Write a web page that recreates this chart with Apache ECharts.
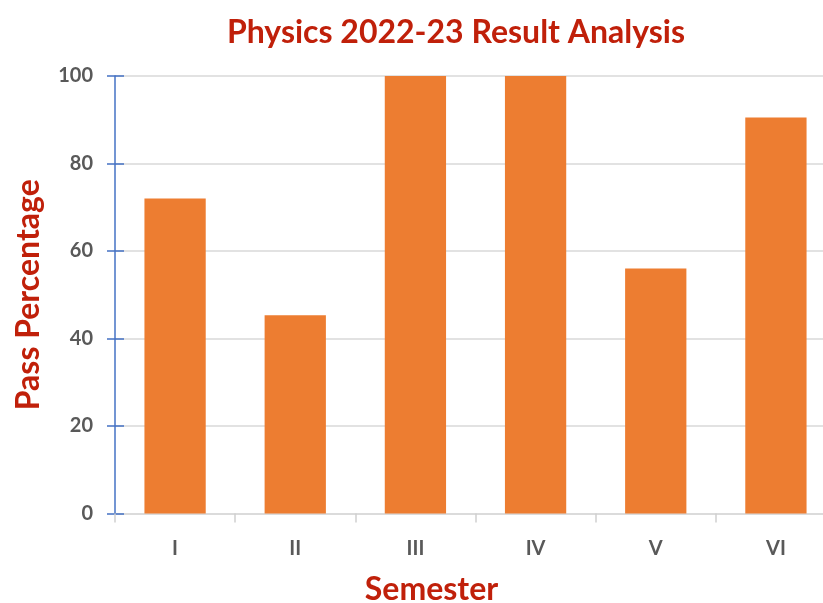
<!DOCTYPE html>
<html>
<head>
<meta charset="utf-8">
<script src="https://cdn.jsdelivr.net/npm/echarts@6/dist/echarts.min.js"></script>
<style>html,body{margin:0;padding:0;background:#fff}#c{width:823px;height:603px}</style>
</head>
<body>
<div id="c"></div>
<script>
var categories = ['I', 'II', 'III', 'IV', 'V', 'VI'];
var passPercentage = [72, 45.3, 100, 100, 56, 90.5];
var yTicks = [0, 20, 40, 60, 80, 100];

var chart = echarts.init(document.getElementById('c'));
var red = '#C0200A';
var gray = '#595959';
chart.setOption({
  animation: false,
  title: {
    text: 'Physics 2022-23 Result Analysis',
    left: 451, top: 12, textAlign: 'center',
    textStyle: {color: red, fontFamily: 'Lato', fontWeight: 'bold', fontSize: 32}
  },
  grid: {left: 115, top: 76, width: 721, height: 437.5, containLabel: false, outerBoundsMode: 'none'},
  xAxis: {
    type: 'category', data: categories,
    name: 'Semester', nameLocation: 'middle', nameGap: 60,
    nameTextStyle: {color: red, fontFamily: 'Lato', fontWeight: 'bold', fontSize: 32, padding: [0, 88, 0, 0]},
    axisLine: {lineStyle: {color: '#d9d9d9', width: 1.5}},
    axisTick: {show: true, length: 9, lineStyle: {color: '#cfcfcf', width: 1.5}},
    axisLabel: {color: gray, fontFamily: 'Lato', fontWeight: 'bold', fontSize: 20, margin: 25}
  },
  yAxis: [{
    type: 'value', min: yTicks[0], max: yTicks[yTicks.length - 1], interval: 20,
    name: 'Pass Percentage', nameLocation: 'middle', nameGap: 70, nameRotate: 90,
    nameTextStyle: {color: red, fontFamily: 'Lato', fontWeight: 'bold', fontSize: 32},
    axisLine: {show: true, lineStyle: {color: '#4472C4', width: 1.5}},
    axisTick: {show: true, length: 8, lineStyle: {color: '#4472C4', width: 1.5}},
    axisLabel: {color: gray, fontFamily: 'Lato', fontWeight: 'bold', fontSize: 20, margin: 22},
    splitLine: {lineStyle: {color: '#d9d9d9', width: 1.5}}
  }, {
    type: 'value', min: yTicks[0], max: yTicks[yTicks.length - 1], interval: 20, position: 'left',
    axisLine: {show: false},
    axisTick: {show: true, inside: true, length: 9, lineStyle: {color: '#4472C4', width: 1.5}},
    axisLabel: {show: false}, splitLine: {show: false}
  }],
  series: [{
    type: 'bar', data: passPercentage, barWidth: '51%',
    itemStyle: {color: '#ED7D31'}
  }]
});
</script>
</body>
</html>
